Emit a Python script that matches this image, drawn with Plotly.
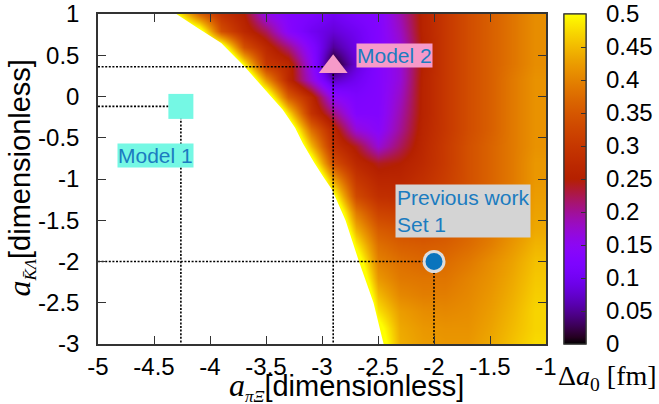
import numpy as np
import plotly.graph_objects as go

# ---------------- data ----------------
H = 0.6  # cells left of the allowed region (masked white in the figure)

x_centers = [-4.9, -4.7, -4.5, -4.3, -4.1, -3.9, -3.7, -3.5, -3.3, -3.1,
             -2.9, -2.7, -2.5, -2.3, -2.1, -1.9, -1.7, -1.5, -1.3, -1.1]
y_centers = [-3.0, -2.8, -2.6, -2.4, -2.2, -2.0, -1.8, -1.6, -1.4, -1.2, -1.0,
             -0.8, -0.6, -0.4, -0.2, 0.0, 0.2, 0.4, 0.6, 0.8, 1.0]

delta_a0 = [
    [H]*12 + [0.54, 0.44, 0.425, 0.42, 0.42, 0.435, 0.455, 0.475],                  # y=-3.0
    [H]*12 + [0.52, 0.435, 0.42, 0.415, 0.415, 0.43, 0.45, 0.47],                   # y=-2.8
    [H]*11 + [0.67, 0.48, 0.425, 0.41, 0.405, 0.41, 0.425, 0.445, 0.47],            # y=-2.6
    [H]*11 + [0.63, 0.45, 0.405, 0.395, 0.395, 0.405, 0.42, 0.44, 0.465],           # y=-2.4
    [H]*11 + [0.58, 0.42, 0.39, 0.385, 0.385, 0.40, 0.415, 0.435, 0.46],            # y=-2.2
    [H]*11 + [0.54, 0.40, 0.38, 0.37, 0.375, 0.39, 0.41, 0.43, 0.455],              # y=-2.0
    [H]*10 + [0.69, 0.49, 0.38, 0.36, 0.355, 0.36, 0.375, 0.395, 0.42, 0.445],      # y=-1.8
    [H]*10 + [0.64, 0.44, 0.355, 0.34, 0.335, 0.345, 0.365, 0.385, 0.41, 0.435],    # y=-1.6
    [H]*10 + [0.59, 0.39, 0.32, 0.31, 0.31, 0.33, 0.355, 0.375, 0.40, 0.43],        # y=-1.4
    [H]*10 + [0.52, 0.33, 0.285, 0.28, 0.295, 0.32, 0.345, 0.37, 0.395, 0.425],     # y=-1.2
    [H]*9 + [0.63, 0.43, 0.30, 0.265, 0.265, 0.285, 0.31, 0.34, 0.365, 0.39, 0.42], # y=-1.0
    [H]*9 + [0.54, 0.34, 0.27, 0.24, 0.25, 0.275, 0.305, 0.34, 0.365, 0.39, 0.42],  # y=-0.8
    [H]*8 + [0.65, 0.45, 0.29, 0.24, 0.17, 0.22, 0.27, 0.305, 0.34, 0.365, 0.39, 0.415],   # y=-0.6
    [H]*8 + [0.58, 0.38, 0.27, 0.17, 0.14, 0.20, 0.265, 0.30, 0.335, 0.36, 0.39, 0.415],   # y=-0.4
    [H]*7 + [0.68, 0.48, 0.29, 0.21, 0.13, 0.13, 0.19, 0.26, 0.30, 0.335, 0.36, 0.39, 0.415],  # y=-0.2
    [H]*7 + [0.56, 0.36, 0.27, 0.15, 0.12, 0.13, 0.18, 0.26, 0.30, 0.335, 0.36, 0.39, 0.415],  # y=0.0
    [H]*6 + [0.62, 0.42, 0.27, 0.17, 0.07, 0.10, 0.13, 0.17, 0.26, 0.30, 0.335, 0.36, 0.39, 0.415],  # y=0.2
    [H]*5 + [0.69, 0.49, 0.30, 0.27, 0.15, 0.0, 0.08, 0.13, 0.17, 0.255, 0.30, 0.335, 0.36, 0.385, 0.41],  # y=0.4
    [H]*5 + [0.55, 0.34, 0.27, 0.21, 0.13, 0.05, 0.09, 0.13, 0.17, 0.255, 0.30, 0.335, 0.36, 0.385, 0.41],  # y=0.6
    [H]*4 + [0.54, 0.34, 0.27, 0.22, 0.14, 0.10, 0.08, 0.10, 0.13, 0.18, 0.26, 0.30, 0.335, 0.36, 0.385, 0.41],  # y=0.8
    [H]*3 + [0.51, 0.37, 0.29, 0.25, 0.16, 0.13, 0.12, 0.10, 0.12, 0.13, 0.19, 0.26, 0.30, 0.335, 0.36, 0.385, 0.41],  # y=1.0
]

# edge of the allowed region (white to its left)
boundary_y = [1.1, 1.0, 0.85, 0.65, 0.36, 0.1, -0.16, -0.38, -0.57, -0.8, -0.97, -1.13, -1.5, -2.0, -2.5, -3.0, -3.1]
boundary_x = [-4.42, -4.30, -4.13, -3.90, -3.69, -3.52, -3.35, -3.24, -3.17, -3.07, -2.99, -2.91, -2.79, -2.67, -2.54, -2.45, -2.43]
mask_corner_x = [-5.1, -5.1]
mask_corner_y = [-3.1, 1.1]

model1_x, model1_y = -4.26, -0.12
model2_x, model2_y = -2.90, 0.36
prev_x, prev_y = -2.0, -2.0

x_tickvals = [-5, -4.5, -4, -3.5, -3, -2.5, -2, -1.5, -1]
x_ticktext = ["-5", "-4.5", "-4", "-3.5", "-3", "-2.5", "-2", "-1.5", "-1"]
y_tickvals = [-3, -2.5, -2, -1.5, -1, -0.5, 0, 0.5, 1]
y_ticktext = ["-3", "-2.5", "-2", "-1.5", "-1", "-0.5", "0", "0.5", "1"]
cb_tickvals = [0, 0.05, 0.1, 0.15, 0.2, 0.25, 0.3, 0.35, 0.4, 0.45, 0.5]
cb_ticktext = ["0", "0.05", "0.1", "0.15", "0.2", "0.25", "0.3", "0.35", "0.4", "0.45", "0.5"]
x_min, x_max, y_min, y_max = -5, -1, -3, 1
z_min, z_max = 0, 0.5

# ---------------- style ----------------
def gnuplot_color(t):
    r = np.sqrt(t)
    g = t ** 3
    b = max(0.0, np.sin(2 * np.pi * t))
    return "rgb(%d,%d,%d)" % (round(255 * r), round(255 * g), round(255 * b))

colorscale = [[t, gnuplot_color(t)] for t in np.linspace(0, 1, 51)]

SANS = "Liberation Sans"
SERIF = "Liberation Serif"
LABEL_BLUE = "#1b7cc0"
AQUA = "#75f8e4"
PINK = "#f69ac9"
GREY_BOX = "#d4d4d4"
FRAME = "#333333"

fig = go.Figure()

# colorbar carrying the labels (drawn first so the tick-only bar sits on top)
fig.add_trace(go.Scatter(
    x=[None], y=[None], mode="markers", showlegend=False, hoverinfo="skip",
    marker=dict(color=[z_min], cmin=z_min, cmax=z_max, colorscale=colorscale,
                showscale=True,
                colorbar=dict(x=1.0402, xanchor="left", xpad=0, ypad=0, y=0.5, yanchor="middle",
                              len=1, lenmode="fraction", thickness=22,
                              outlinewidth=1.2, outlinecolor=FRAME,
                              tickvals=cb_tickvals, ticktext=cb_ticktext,
                              ticks="outside", ticklen=15, tickcolor="rgba(0,0,0,0)",
                              tickfont=dict(family=SANS, size=24, color="black"))),
))

fig.add_trace(go.Heatmap(
    x=x_centers, y=y_centers, z=delta_a0, zmin=z_min, zmax=z_max,
    colorscale=colorscale, zsmooth="best", hoverinfo="skip",
    colorbar=dict(x=1.0402, xanchor="left", xpad=0, ypad=0, y=0.5, yanchor="middle",
                  len=1, lenmode="fraction", thickness=22,
                  outlinewidth=1.2, outlinecolor=FRAME,
                  tickvals=cb_tickvals, showticklabels=False,
                  ticks="inside", ticklen=5, tickcolor=FRAME, tickwidth=1),
))

# white mask of the excluded region
fig.add_trace(go.Scatter(
    x=boundary_x + mask_corner_x, y=boundary_y + mask_corner_y,
    fill="toself", fillcolor="white", mode="none", showlegend=False, hoverinfo="skip",
))

# dotted guide lines from each point to the axes
dot = dict(color="black", width=1.6, dash="2px,1.6px")
for px_, py_ in [(model2_x, model2_y), (model1_x, model1_y), (prev_x, prev_y)]:
    fig.add_trace(go.Scatter(x=[x_min, px_], y=[py_, py_], mode="lines", line=dot,
                             showlegend=False, hoverinfo="skip"))
    fig.add_trace(go.Scatter(x=[px_, px_], y=[py_, y_min], mode="lines", line=dot,
                             showlegend=False, hoverinfo="skip"))

fig.add_trace(go.Scatter(x=[model1_x], y=[model1_y], mode="markers", showlegend=False,
                         marker=dict(symbol="square", size=25, color=AQUA, line=dict(width=0))))
fig.add_trace(go.Scatter(x=[model2_x], y=[model2_y], mode="markers", showlegend=False,
                         marker=dict(symbol="triangle-up", size=25, color=PINK, line=dict(width=0))))
fig.add_trace(go.Scatter(x=[prev_x], y=[prev_y], mode="markers", showlegend=False,
                         marker=dict(symbol="circle", size=20, color="#0a74bd",
                                     line=dict(width=3, color="#dcdcdc"))))

axis_common = dict(ticks="inside", ticklen=8, tickwidth=1.2, tickcolor=FRAME,
                   showline=True, linecolor=FRAME, linewidth=1.5, mirror="ticks",
                   showgrid=False, zeroline=False,
                   tickfont=dict(family=SANS, size=24, color="black"))

fig.update_layout(
    width=659, height=404,
    margin=dict(l=98, r=113, t=14, b=60, autoexpand=False),
    paper_bgcolor="white", plot_bgcolor="white",
    xaxis=dict(range=[x_min, x_max], tickvals=x_tickvals, ticktext=x_ticktext,
               ticklabelstandoff=0, **axis_common),
    yaxis=dict(range=[y_min, y_max], tickvals=y_tickvals, ticktext=y_ticktext,
               ticklabelstandoff=12, **axis_common),
    showlegend=False,
)

ann_font = dict(family=SANS, size=21, color=LABEL_BLUE)
fig.add_annotation(x=-2.35, y=0.497, xref="x", yref="y", text="Model 2", showarrow=False,
                   font=ann_font, bgcolor=PINK, borderpad=0)
fig.add_annotation(x=-4.49, y=-0.715, xref="x", yref="y", text="Model 1", showarrow=False,
                   font=ann_font, bgcolor=AQUA, borderpad=0)
fig.add_annotation(x=-1.737, y=-1.382, xref="x", yref="y", text="Previous work<br>Set 1",
                   showarrow=False, align="left", font=ann_font, bgcolor=GREY_BOX, borderpad=1)

serif_a = '<span style="font-family:%s;font-size:32px"><i>a</i></span>' % SERIF
sub_style = 'font-family:%s;font-size:17px' % SERIF
x_title = serif_a + '<sub><span style="%s"><i>πΞ</i></span></sub>[dimensionless]' % sub_style
y_title = serif_a + '<sub><span style="%s"><i>K̄Λ</i></span></sub>[dimensionless]' % sub_style
fig.add_annotation(x=0.288, y=0, xref="paper", yref="paper", xanchor="left", yanchor="middle",
                   yshift=-42, text=x_title, showarrow=False,
                   font=dict(family=SANS, size=29, color="black"))
fig.add_annotation(x=-0.174, y=0.5015, xref="paper", yref="paper", xanchor="center", yanchor="middle",
                   textangle=-90, text=y_title, showarrow=False,
                   font=dict(family=SANS, size=29, color="black"))
fig.add_annotation(x=1.138, y=0, xref="paper", yref="paper", xanchor="center", yanchor="middle",
                   yshift=-33, text="Δ<i>a</i><sub>0</sub> [fm]", showarrow=False,
                   font=dict(family=SERIF, size=28, color="black"))

fig.write_html("out.html")
